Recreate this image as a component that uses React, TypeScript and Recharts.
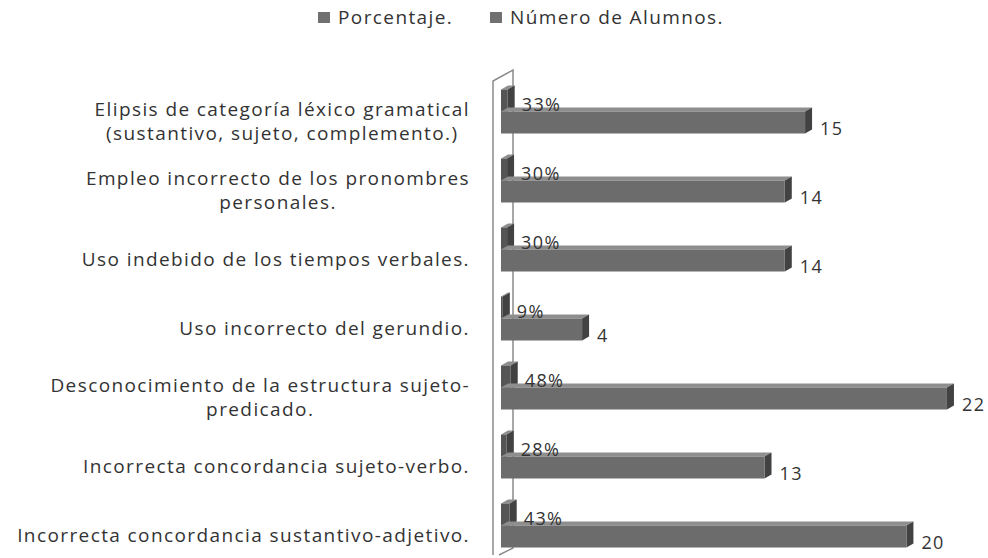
import React from 'react';
import { BarChart, Bar, XAxis, YAxis, LabelList } from 'recharts';

const categories = [
  'Elipsis de categoría léxico gramatical\n(sustantivo, sujeto, complemento.)',
  'Empleo incorrecto de los pronombres\npersonales.',
  'Uso indebido de los tiempos verbales.',
  'Uso incorrecto del gerundio.',
  'Desconocimiento de la estructura sujeto-\npredicado.',
  'Incorrecta concordancia sujeto-verbo.',
  'Incorrecta concordancia sustantivo-adjetivo.',
];
const porcentaje = [0.33, 0.3, 0.3, 0.09, 0.48, 0.28, 0.43];
const alumnos = [15, 14, 14, 4, 22, 13, 20];
const seriesNames = ['Porcentaje.', 'Número de Alumnos.'];
const seriesColors = ['#555555', '#6c6c6c'];

const data = categories.map((name, i) => ({ name, pct: porcentaje[i], num: alumnos[i] }));

const W = 988;
const H = 570;
const MARGIN = { top: 76.5, right: 0.5, bottom: 10.5, left: 0 };
const YW = 501;
const FONT = '"Open Sans", sans-serif';
const TEXT = '#333333';
const LS = 1.4;
const FS = 19;

let ctx: CanvasRenderingContext2D | null = null;
function measure(s: string, size: number) {
  if (!ctx) ctx = document.createElement('canvas').getContext('2d');
  if (!ctx) return s.length * size * 0.55;
  ctx.font = `${size}px "Open Sans"`;
  return ctx.measureText(s).width + LS * s.length;
}

const Tick = (props: any) => {
  const { y, payload } = props;
  const lines = String(payload.value).split('\n');
  const right = 470;
  const widths = lines.map((l) => measure(l, FS));
  const maxW = Math.max(...widths);
  const cx = right - maxW / 2;
  const lh = 24;
  const startY = y + 10 - ((lines.length - 1) * lh) / 2;
  return (
    <text fill={TEXT} fontSize={FS} fontFamily={FONT} letterSpacing={LS} textAnchor="middle">
      {lines.map((l, i) => (
        <tspan key={i} x={cx} y={startY + i * lh} dominantBaseline="central">
          {l}
        </tspan>
      ))}
    </text>
  );
};

const Bar3D = (props: any) => {
  const { x, y, width, height, fill } = props;
  const dx = 7;
  const dy = 4;
  return (
    <g>
      <polygon
        points={`${x},${y} ${x + dx},${y - dy} ${x + width + dx},${y - dy} ${x + width},${y}`}
        fill="#8e8e8e"
      />
      <polygon
        points={`${x + width},${y} ${x + width + dx},${y - dy} ${x + width + dx},${y + height - dy} ${x + width},${y + height}`}
        fill="#424242"
      />
      <rect x={x} y={y} width={width} height={height} fill={fill} />
    </g>
  );
};

const PctLabel = (props: any) => {
  const { x, y, width, height, value } = props;
  return (
    <text x={x + width + 14} y={y + height / 2 + 3} fill={TEXT} fontSize={18} fontFamily={FONT} letterSpacing={LS} dominantBaseline="central">
      {Math.round(value * 100)}%
    </text>
  );
};

const NumLabel = (props: any) => {
  const { x, y, width, height, value } = props;
  return (
    <text x={x + width + 15} y={y + height / 2 + 5} fill={TEXT} fontSize={18} fontFamily={FONT} letterSpacing={LS} dominantBaseline="central">
      {value}
    </text>
  );
};

const Wall = () => {
  const x0 = 493;
  const x1 = 513;
  const top0 = 81;
  const top1 = 70;
  const bot0 = 555;
  const bot1 = 548;
  return (
    <svg width={W} height={558} style={{ position: 'absolute', left: 0, top: 0 }}>
      <polyline
        points={`${x0},${bot0} ${x0},${top0} ${x1},${top1} ${x1},${bot1} ${x0 + 6},${bot0}`}
        fill="none"
        stroke="#8a8a8a"
        strokeWidth={1.5}
      />
    </svg>
  );
};

const LegendBox = () => (
  <div
    style={{
      position: 'absolute',
      top: 4,
      left: 318,
      display: 'flex',
      alignItems: 'center',
      fontFamily: FONT,
      fontSize: FS,
      letterSpacing: LS,
      color: TEXT,
      whiteSpace: 'nowrap',
    }}
  >
    {seriesNames.map((n, i) => (
      <span key={n} style={{ display: 'flex', alignItems: 'center', width: i === 0 ? 172 : 'auto' }}>
        <span style={{ display: 'inline-block', width: 12, height: 11, background: '#707070', marginRight: 8 }} />
        {n}
      </span>
    ))}
  </div>
);

export default function App() {
  return (
    <div style={{ position: 'absolute', left: 0, top: 0, width: W, height: 558, overflow: 'hidden', background: '#fff' }}>
      <Wall />
      <div style={{ position: 'absolute', left: 0, top: 0 }}>
        <BarChart width={W} height={H} data={data} layout="vertical" margin={MARGIN} barSize={22} barGap={0}>
          <XAxis type="number" domain={[0, 24]} hide />
          <YAxis type="category" dataKey="name" width={YW} axisLine={false} tickLine={false} tick={<Tick />} interval={0} />
          <Bar dataKey="pct" name={seriesNames[0]} fill={seriesColors[0]} shape={<Bar3D />} isAnimationActive={false}>
            <LabelList dataKey="pct" content={<PctLabel />} />
          </Bar>
          <Bar dataKey="num" name={seriesNames[1]} fill={seriesColors[1]} shape={<Bar3D />} isAnimationActive={false}>
            <LabelList dataKey="num" content={<NumLabel />} />
          </Bar>
        </BarChart>
      </div>
      <LegendBox />
    </div>
  );
}
